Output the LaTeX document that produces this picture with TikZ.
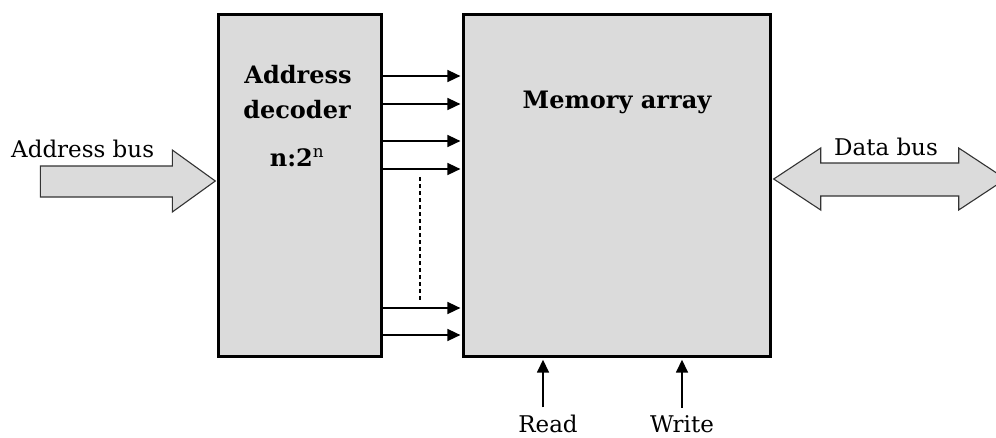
\documentclass[tikz,border=0pt]{standalone}
\usepackage{fontspec}
\setmainfont{DejaVu Serif}
\usepackage{tikz}
\usetikzlibrary{arrows.meta, calc}
\definecolor{blockgray}{HTML}{DBDBDB}

\tikzset{
	block/.style={draw, line width=3.2pt, fill=blockgray, inner sep=0pt},
	feed/.style={-{Triangle[length=13pt, width=12pt]}, line width=1.6pt},
	bus/.style={draw=black!80, fill=blockgray, line width=1.1pt, line join=miter},
	lbl/.style={font=\fontsize{23}{27}\selectfont, inner sep=1pt},
	title/.style={font=\bfseries\fontsize{24}{28}\selectfont, inner sep=1pt},
}

\begin{document}
\begin{tikzpicture}[x=1pt, y=-1pt]
	\useasboundingbox (0,0) rectangle (996,437);

	% decoder and memory blocks
	\node[block, minimum width=163pt, minimum height=342pt] (dec) at (300,185.5) {};
	\node[block, minimum width=307pt, minimum height=342pt] (mem) at (617,185.5) {};

	\node[title, anchor=base] (decA) at ($ (dec.north)+(-2,70.5) $) {Address};
	\node[title, anchor=base] (decB) at ($ (dec.north)+(-3,105.5) $) {decoder};
	\node[title, anchor=base] (decC) at ($ (dec.north)+(-3,153.5) $) {n:2\textsuperscript{\mdseries n}};
	\node[title, anchor=base] (memA) at ($ (mem.north)+(0,95.5) $) {Memory array};

	% word lines
	\foreach \y in {76,104,141,169,308,335}
		\draw[feed, shorten >=1.5pt] (dec.east |- 0,\y) -- (mem.west |- 0,\y);
	\coordinate (dotA) at (420,177);
	\coordinate (dotB) at (420,300);
	\draw[line width=1.3pt, dash pattern=on 4pt off 3pt] (dotA) -- (dotB);

	% address bus
	\coordinate (abtip) at ($ (dec.west |- 0,181)+(-1.6,0) $);
	\draw[bus] (abtip) -- ++(-43,-31) -- ++(0,16) -- ++(-132,0) -- ++(0,31)
		-- ++(132,0) -- ++(0,15) -- cycle;
	\node[lbl, anchor=base west] (ablbl) at (10,157) {Address bus};

	% data bus
	\coordinate (dbtip) at ($ (mem.east |- 0,179)+(1.6,0) $);
	\draw[bus] (dbtip) -- ++(47,-31) -- ++(0,15) -- ++(138,0) -- ++(0,-15)
		-- ++(47,31) -- ++(-47,31) -- ++(0,-14) -- ++(-138,0) -- ++(0,14) -- cycle;
	\node[lbl, anchor=base] (dblbl) at (886,155) {Data bus};

	% control lines
	\node[lbl, anchor=base] (rd) at (548,432) {Read};
	\node[lbl, anchor=base] (wr) at (682,432) {Write};
	\draw[feed, shorten >=1.6pt] (rd.north -| 543,0) ++(0,-6) -- (543,0 |- mem.south);
	\draw[feed, shorten >=1.6pt] (wr.north -| 682,0) ++(0,-6) -- (682,0 |- mem.south);
\end{tikzpicture}
\end{document}
